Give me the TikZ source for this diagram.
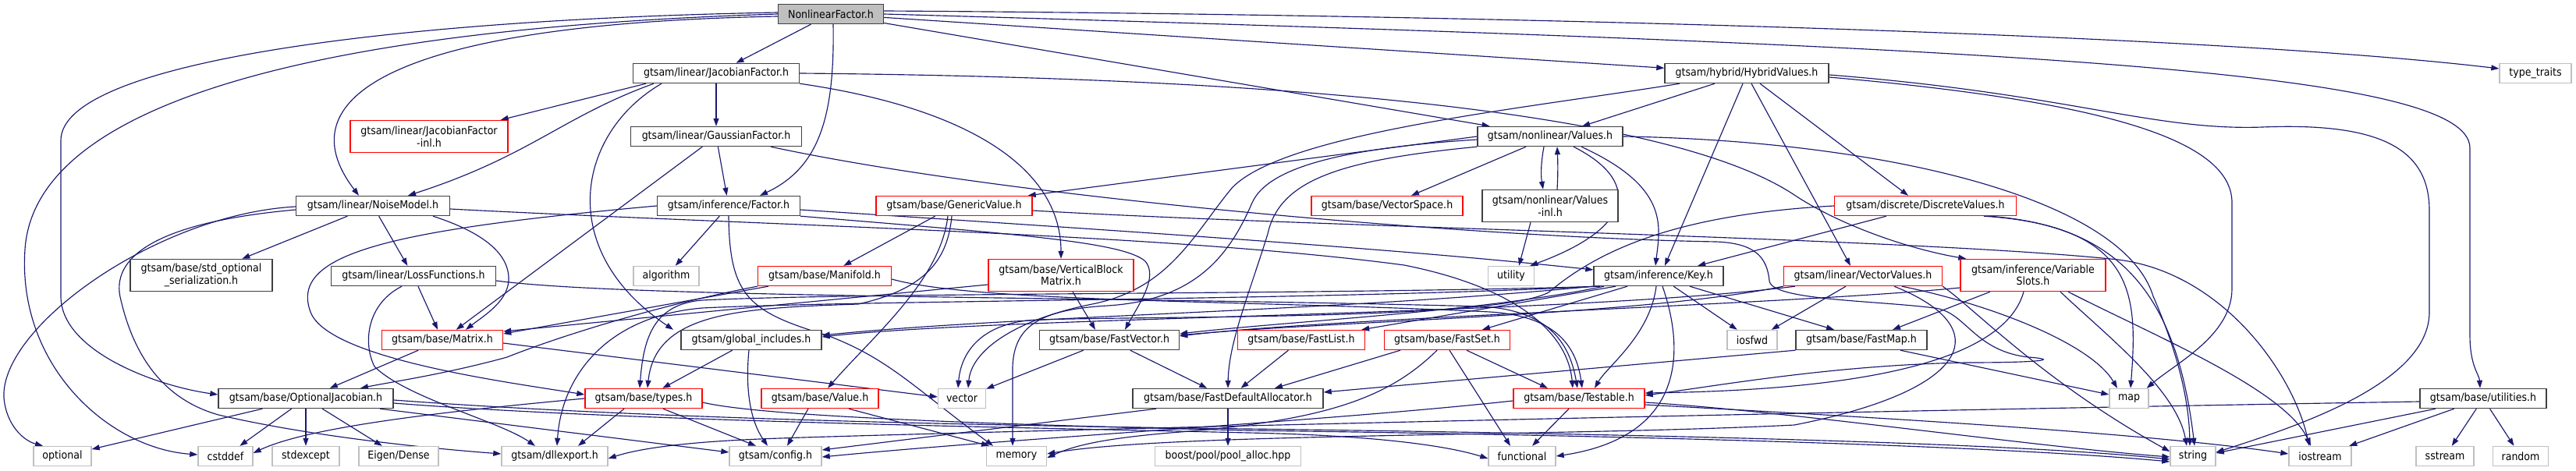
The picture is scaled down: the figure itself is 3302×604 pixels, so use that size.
\documentclass[tikz,border=0pt]{standalone}
\usepackage{fontspec}
\IfFontExistsTF{DejaVu Sans Condensed}{\setmainfont{DejaVu Sans Condensed}}{\setmainfont{DejaVu Sans}[FakeStretch=0.9]}
\usetikzlibrary{arrows.meta}
\pgfdeclarelayer{edgelayer}
\pgfsetlayers{edgelayer,main}
\definecolor{edgec}{HTML}{191970}
\definecolor{nodeblk}{HTML}{404040}
\definecolor{nodered}{HTML}{FF0000}
\definecolor{nodegry}{HTML}{BFBFBF}
\definecolor{rootfill}{HTML}{BFBFBF}
\tikzset{
  base/.style={rectangle, line width=1.4pt, fill=white, inner sep=0pt, minimum height=25pt,
    font=\fontsize{14}{15.5}\selectfont, align=center},
  nb/.style={base, draw=nodeblk},
  nr/.style={base, draw=nodered},
  ng/.style={base, draw=nodegry},
  nroot/.style={base, draw=nodeblk, fill=rootfill},
  two/.style={minimum height=41pt},
  e/.style={draw=edgec, line width=1.15pt, -{Triangle[length=10pt,width=7pt]}},
}
\begin{document}
\begin{tikzpicture}[x=1pt,y=-1pt]
\useasboundingbox (0,0) rectangle (3302,604);
% row 1
\node[nroot, minimum width=135pt] (nf) at (1065,18) {NonlinearFactor.h};
% row 2
\node[nb, minimum width=213pt] (jf) at (918,94) {gtsam/linear/JacobianFactor.h};
\node[nb, minimum width=210pt] (hyb) at (2239,94) {gtsam/hybrid/HybridValues.h};
\node[ng, minimum width=92pt] (tt) at (3250,94) {type\_traits};
% row 3
\node[nr, two, minimum width=202pt] (jinl) at (550,175) {gtsam/linear/JacobianFactor\\-inl.h};
\node[nb, minimum width=219pt] (gf) at (918,175) {gtsam/linear/GaussianFactor.h};
\node[nb, minimum width=186pt] (vals) at (1987,175) {gtsam/nonlinear/Values.h};
% row 4
\node[nb, minimum width=197pt] (noise) at (478,264) {gtsam/linear/NoiseModel.h};
\node[nb, minimum width=183pt] (fac) at (934,264) {gtsam/inference/Factor.h};
\node[nr, minimum width=200pt] (gv) at (1223,264) {gtsam/base/GenericValue.h};
\node[nr, minimum width=194pt] (vspace) at (1778,264) {gtsam/base/VectorSpace.h};
\node[nb, two, minimum width=174pt] (vinl) at (1987,264) {gtsam/nonlinear/Values\\-inl.h};
\node[nr, minimum width=233pt] (dvals) at (2468,264) {gtsam/discrete/DiscreteValues.h};
% row 5
\node[nb, two, minimum width=182pt] (stdopt) at (258,353) {gtsam/base/std\_optional\\\_serialization.h};
\node[nb, minimum width=211pt] (loss) at (530,354) {gtsam/linear/LossFunctions.h};
\node[ng, minimum width=84pt] (algo) at (854,354) {algorithm};
\node[nr, minimum width=171pt] (manif) at (1057,354) {gtsam/base/Manifold.h};
\node[nr, two, minimum width=186pt] (vbm) at (1360,353) {gtsam/base/VerticalBlock\\Matrix.h};
\node[ng, minimum width=59pt] (utility) at (1937,354) {utility};
\node[nb, minimum width=166pt] (key) at (2126,354) {gtsam/inference/Key.h};
\node[nr, minimum width=203pt] (vvals) at (2388,354) {gtsam/linear/VectorValues.h};
\node[nr, two, minimum width=186pt] (vslots) at (2606,353) {gtsam/inference/Variable\\Slots.h};
% row 6
\node[nr, minimum width=155pt] (matrix) at (567,436) {gtsam/base/Matrix.h};
\node[nb, minimum width=180pt] (glob) at (963,436) {gtsam/global\_includes.h};
\node[nb, minimum width=179pt] (fvec) at (1422,436) {gtsam/base/FastVector.h};
\node[nr, minimum width=163pt] (flist) at (1668,436) {gtsam/base/FastList.h};
\node[nr, minimum width=161pt] (fset) at (1855,436) {gtsam/base/FastSet.h};
\node[ng, minimum width=64pt] (iosfwd) at (2246,436) {iosfwd};
\node[nb, minimum width=168pt] (fmap) at (2386,436) {gtsam/base/FastMap.h};
% row 7
\node[nb, minimum width=224pt] (oj) at (392,511) {gtsam/base/OptionalJacobian.h};
\node[nr, minimum width=150pt] (types) at (825,511) {gtsam/base/types.h};
\node[nr, minimum width=150pt] (value) at (1051,511) {gtsam/base/Value.h};
\node[ng, minimum width=61pt] (vector) at (1233,511) {vector};
\node[nb, minimum width=244pt] (fda) at (1574,511) {gtsam/base/FastDefaultAllocator.h};
\node[nr, minimum width=168pt] (testable) at (2024,511) {gtsam/base/Testable.h};
\node[ng, minimum width=50pt] (map) at (2729,511) {map};
\node[nb, minimum width=162pt] (util) at (3183,511) {gtsam/base/utilities.h};
% row 8
\node[ng, minimum width=74pt] (optional) at (80,585) {optional};
\node[ng, minimum width=70pt] (cstddef) at (289,585) {cstddef};
\node[ng, minimum width=86pt] (stdexcept) at (392,585) {stdexcept};
\node[ng, minimum width=102pt] (eigen) at (511,585) {Eigen/Dense};
\node[ng, minimum width=136pt] (dll) at (711,585) {gtsam/dllexport.h};
\node[ng, minimum width=118pt] (config) at (994,585) {gtsam/config.h};
\node[ng, minimum width=77pt] (memory) at (1303,585) {memory};
\node[ng, minimum width=187pt] (pool) at (1574,585) {boost/pool/pool\_alloc.hpp};
\node[ng, minimum width=86pt] (functional) at (1951,585) {functional};
\node[ng, minimum width=58pt] (string) at (2811,585) {string};
\node[ng, minimum width=80pt] (iostream) at (2974,585) {iostream};
\node[ng, minimum width=74pt] (sstream) at (3134,585) {sstream};
\node[ng, minimum width=71pt] (random) at (3231,585) {random};

\begin{pgfonlayer}{edgelayer}
\fill[white] (0,0) rectangle (3302,604);
% ---- root
\draw[e] (nf) -- (jf);
\draw[e] ([xshift=3pt]nf.south) .. controls (1070,150) and (1050,215) .. ([xshift=40pt]fac.north);
\draw[e] (nf) -- (vals);
\draw[e] (nf) -- (hyb);
\draw[e] ([yshift=4pt]nf.east) .. controls (1800,18) and (2800,40) .. ([yshift=6pt]tt.west);
\draw[e] (nf.east) .. controls (2600,60) and (3166,90) .. (3166,190) -- (3166,430) .. controls (3166,470) and (3178,480) .. ([xshift=-4pt]util.north);
\draw[e] ([yshift=-3pt]nf.west) .. controls (520,30) and (360,120) .. ([xshift=-18pt]noise.north);
\draw[e] ([yshift=2pt]nf.west) .. controls (500,25) and (78,80) .. (78,180) -- (78,380) .. controls (78,450) and (200,495) .. ([yshift=5pt]oj.west);
\draw[e] (nf.west) .. controls (450,35) and (45,120) .. (32,320) .. controls (22,470) and (140,575) .. ([yshift=2pt]cstddef.west);
% ---- JacobianFactor
\draw[e] ([xshift=-90pt]jf.south) -- ([xshift=-10pt]jinl.north east);
\draw[e] ([xshift=-80pt]jf.south) .. controls (720,150) and (680,200) .. ([xshift=45pt]noise.north);
\draw[e] (jf) -- (gf);
\draw[e] (jf.south east) .. controls (1250,140) and (1360,220) .. (vbm.north);
\draw[e] ([xshift=-70pt]jf.south) .. controls (740,170) and (710,320) .. ([xshift=-100pt]glob.north);
\draw[e] (jf.east) .. controls (1700,100) and (2150,150) .. (2300,250) .. controls (2360,290) and (2450,320) .. ([xshift=8pt]vslots.north west);
% ---- GaussianFactor
\draw[e] (gf) -- (fac);
\draw[e] (gf) -- (matrix);
\draw[e] ([xshift=70pt]gf.south) .. controls (1300,255) and (1900,305) .. (2200,310) .. controls (2250,312) and (2265,330) .. (2268,360) .. controls (2270,385) and (2400,385) .. (2480,395) .. controls (2520,400) and (2530,450) .. (2600,458) .. controls (2640,461) and (2620,465) .. (2520,465) .. controls (2350,468) and (2200,495) .. ([yshift=4pt]testable.east);
% ---- Factor
\draw[e] (fac) -- (algo);
\draw[e] (fac.west) .. controls (500,295) and (370,325) .. (398,400) .. controls (420,460) and (650,490) .. ([yshift=5pt]types.west);
\draw[e] (fac.south) .. controls (935,380) and (960,400) .. (1060,430) .. controls (1140,460) and (1175,500) .. ([xshift=-30pt]memory.north);
\draw[e] ([yshift=-5pt]fac.east) .. controls (1500,300) and (1800,320) .. ([yshift=8pt]key.west);
\draw[e] (fac.south east) .. controls (1300,300) and (1440,310) .. (1468,335) .. controls (1485,355) and (1460,390) .. ([xshift=20pt]fvec.north);
% ---- GenericValue
\draw[e] (gv) -- (manif);
\draw[e] ([xshift=-3pt]gv.south) .. controls (1215,330) and (1190,370) .. (1100,390) .. controls (950,395) and (840,400) .. ([xshift=5pt]types.north);
\draw[e] ([xshift=-8pt]gv.south) .. controls (1205,360) and (1120,430) .. ([xshift=10pt]value.north);
\draw[e] ([yshift=-6pt]gv.east) .. controls (1700,292) and (2450,305) .. (2715,333) .. controls (2850,350) and (2940,480) .. ([xshift=-14pt]iostream.north);
% ---- Values
\draw[e] (vals.west) -- ([xshift=-6pt]gv.north east);
\draw[e] (vals) -- (vspace);
\draw[e] ([xshift=-8pt]vals.south) .. controls (1975,210) and (1975,225) .. ([xshift=-9pt]vinl.north);
\draw[e] ([xshift=9pt]vinl.north) .. controls (1997,225) and (1997,210) .. ([xshift=9pt]vals.south);
\draw[e] ([xshift=30pt]vals.south) .. controls (2100,230) and (2100,290) .. ([xshift=-6pt]utility.north east);
\draw[e] ([xshift=40pt]vals.south) .. controls (2140,240) and (2128,290) .. ([xshift=-4pt]key.north);
\draw[e] (vals.east) .. controls (2400,180) and (2720,250) .. (2760,380) .. controls (2795,460) and (2806,520) .. ([xshift=-4pt]string.north);
\draw[e] ([yshift=-4pt]vals.west) .. controls (1720,190) and (1625,215) .. (1605,260) .. controls (1575,330) and (1530,385) .. (1420,392) .. controls (1330,397) and (1300,420) .. (1298,470) -- ([xshift=-5pt]memory.north);
\draw[e] (vals.south west) .. controls (1720,205) and (1640,230) .. (1625,300) .. controls (1600,380) and (1575,440) .. (fda.north);
\draw[e] ([xshift=-25pt]vinl.south) -- ([xshift=10pt]utility.north);
% ---- HybridValues
\draw[e] (hyb) -- (vals);
\draw[e] ([xshift=-5pt]hyb.south) -- ([xshift=8pt]key.north);
\draw[e] ([xshift=6pt]hyb.south) -- ([xshift=-16pt]vvals.north);
\draw[e] ([xshift=17pt]hyb.south) -- ([xshift=-22pt]dvals.north);
\draw[e] ([yshift=-5pt]hyb.east) .. controls (2700,130) and (2861,180) .. (2861,260) -- (2861,370) .. controls (2861,430) and (2790,465) .. ([xshift=-3pt]map.north east);
\draw[e] ([yshift=-2pt]hyb.east) .. controls (2650,120) and (2760,168) .. (2900,163) .. controls (3050,157) and (3114,190) .. (3114,270) -- (3114,400) .. controls (3114,490) and (2950,545) .. ([yshift=5pt]string.east);
\draw[e] ([xshift=-86pt]hyb.south) .. controls (1950,140) and (1650,170) .. (1580,240) .. controls (1530,300) and (1500,370) .. (1400,390) .. controls (1300,410) and (1245,450) .. ([xshift=8pt]vector.north);
% ---- DiscreteValues
\draw[e] (dvals) -- (key);
\draw[e] (dvals.west) .. controls (2150,275) and (2050,320) .. (1985,375) .. controls (1920,410) and (1500,405) .. (1330,410) .. controls (1260,413) and (1232,450) .. ([xshift=-5pt]vector.north);
\draw[e] ([xshift=75pt]dvals.south) .. controls (2740,290) and (2740,380) .. ([xshift=2pt]map.north);
\draw[e] ([xshift=82pt]dvals.south) .. controls (2720,290) and (2790,380) .. ([xshift=2pt]string.north);
% ---- Key
\draw[e] ([xshift=-55pt]key.south) -- ([xshift=-5pt]flist.north east);
\draw[e] ([xshift=-40pt]key.south) -- ([xshift=45pt]fset.north);
\draw[e] ([xshift=-70pt]key.south) .. controls (1900,400) and (1650,412) .. ([yshift=8pt]fvec.east);
\draw[e] (key.south west) .. controls (1700,400) and (1300,405) .. ([yshift=6pt]glob.east);
\draw[e] ([xshift=-75pt]key.south) .. controls (1700,378) and (1100,375) .. (900,385) .. controls (840,390) and (825,430) .. ([xshift=-5pt]types.north);
\draw[e] ([xshift=-80pt]key.south) .. controls (1700,385) and (1100,385) .. (900,395) .. controls (780,405) and (720,480) .. ([xshift=3pt]dll.north);
\draw[e] ([xshift=-3pt]key.south) .. controls (2115,430) and (2060,470) .. ([xshift=20pt]testable.north);
\draw[e] ([xshift=5pt]key.south) .. controls (2160,450) and (2160,560) .. (functional.east);
\draw[e] (key) -- (iosfwd);
\draw[e] ([xshift=40pt]key.south) -- ([xshift=-35pt]fmap.north);
% ---- VectorValues
\draw[e] ([xshift=-22pt]vvals.south) -- ([xshift=-8pt]iosfwd.north east);
\draw[e] (vvals.south west) .. controls (2100,405) and (1700,412) .. ([yshift=6pt]fvec.east);
\draw[e] ([xshift=15pt]vvals.south west) .. controls (2000,405) and (1300,405) .. ([yshift=4pt]glob.east);
\draw[e] ([xshift=50pt]vvals.south) .. controls (2550,390) and (2680,440) .. ([xshift=-15pt]map.north);
\draw[e] (vvals.south east) .. controls (2530,395) and (2620,490) .. ([yshift=6pt]string.west);
\draw[e] ([xshift=40pt]vvals.south) .. controls (2560,420) and (2530,500) .. (2300,545) .. controls (2000,560) and (1500,555) .. ([yshift=3pt]memory.east);
% ---- VariableSlots
\draw[e] ([xshift=-55pt]vslots.south) -- ([xshift=40pt]fmap.north);
\draw[e] ([yshift=-16pt]vslots.west) .. controls (2300,390) and (1700,408) .. ([yshift=5pt]fvec.east);
\draw[e] ([xshift=-12pt]vslots.south) .. controls (2570,460) and (2400,500) .. ([yshift=7pt]testable.east);
\draw[e] ([xshift=35pt]vslots.south) .. controls (2700,430) and (2790,500) .. ([xshift=-8pt]string.north);
\draw[e] ([xshift=45pt]vslots.south) .. controls (2760,430) and (2930,500) .. ([xshift=-12pt]iostream.north);
% ---- Matrix
\draw[e] (matrix) -- (oj);
\draw[e] ([yshift=-4pt]matrix.east) -- ([yshift=2pt]vector.west);
% ---- global_includes
\draw[e] (glob) -- (types);
\draw[e] ([xshift=-3pt]glob.south) .. controls (955,500) and (962,540) .. ([xshift=-10pt]config.north);
% ---- Fast containers
\draw[e] (fvec) -- (vector);
\draw[e] (fvec) -- (fda);
\draw[e] (flist) -- (fda);
\draw[e] ([xshift=-60pt]fset.south) -- ([xshift=60pt]fda.north);
\draw[e] ([xshift=25pt]fset.south) -- ([xshift=-40pt]testable.north);
\draw[e] ([xshift=3pt]fset.south) -- ([xshift=-15pt]functional.north);
\draw[e] ([xshift=-13pt]fset.south) .. controls (1780,510) and (1700,540) .. (1500,555) .. controls (1420,562) and (1380,570) .. ([yshift=-2pt]memory.east);
\draw[e] (fmap.south west) -- ([yshift=8pt]fda.east);
\draw[e] ([xshift=50pt]fmap.south) -- ([yshift=5pt]map.west);
% ---- OptionalJacobian
\draw[e] (oj) -- (optional);
\draw[e] (oj) -- (cstddef);
\draw[e] (oj) -- (stdexcept);
\draw[e] (oj) -- (eigen);
\draw[e] ([xshift=95pt]oj.south) -- ([yshift=5pt]config.west);
\draw[e] ([yshift=-2pt]oj.east) .. controls (800,535) and (1200,545) .. (1600,550) .. controls (2200,558) and (2600,570) .. ([yshift=-4pt]string.west);
\draw[e] ([yshift=-6pt]oj.east) .. controls (800,540) and (1300,548) .. (1600,555) .. controls (1750,558) and (1850,570) .. ([yshift=-3pt]functional.west);
% ---- types
\draw[e] (types.west) .. controls (600,525) and (400,545) .. ([yshift=4pt]cstddef.east);
\draw[e] ([xshift=-25pt]types.south) -- ([xshift=30pt]dll.north);
\draw[e] ([xshift=25pt]types.south) -- ([xshift=-25pt]config.north);
\draw[e] ([yshift=-5pt]types.east) .. controls (980,535) and (1300,545) .. (1600,552) .. controls (2200,560) and (2600,575) .. ([yshift=-7pt]string.west);
% ---- Value
\draw[e] ([xshift=-15pt]value.south) -- ([xshift=15pt]config.north);
\draw[e] ([xshift=37pt]value.south) -- ([xshift=-35pt]memory.north);
% ---- FastDefaultAllocator
\draw[e] ([xshift=-92pt]fda.south) -- ([yshift=8pt]config.east);
\draw[e] (fda) -- (pool);
% ---- Testable
\draw[e] (testable) -- (functional);
\draw[e] ([yshift=-3pt]testable.west) .. controls (1700,540) and (1300,562) .. ([yshift=-1pt]config.east);
\draw[e] ([yshift=-5pt]testable.east) .. controls (2300,528) and (2600,572) .. ([yshift=-1pt]string.west);
\draw[e] ([yshift=-8pt]testable.east) .. controls (2400,535) and (2750,555) .. ([yshift=3pt]iostream.west);
% ---- utilities
\draw[e] ([xshift=-61pt]util.south) -- ([yshift=4pt]string.east);
\draw[e] (util) -- (iostream);
\draw[e] (util) -- (sstream);
\draw[e] (util) -- (random);
\draw[e] ([yshift=-4pt]util.west) .. controls (2200,530) and (1200,555) .. (1000,562) .. controls (880,566) and (820,575) .. ([yshift=-3pt]dll.east);
% ---- NoiseModel
\draw[e] (noise) -- (stdopt);
\draw[e] (noise) -- (loss);
\draw[e] ([xshift=77pt]noise.south) .. controls (610,295) and (650,320) .. (652,355) .. controls (654,385) and (620,405) .. ([xshift=30pt]matrix.north);
\draw[e] ([yshift=-1pt]noise.west) .. controls (200,275) and (0,420) .. (5,510) .. controls (8,545) and (30,565) .. ([xshift=-25pt]optional.north);
\draw[e] ([yshift=-5pt]noise.west) .. controls (200,285) and (140,330) .. (155,385) .. controls (175,470) and (220,515) .. (280,532) .. controls (400,560) and (550,575) .. ([yshift=3pt]dll.west);
\draw[e] ([yshift=-4pt]noise.east) .. controls (1000,290) and (1500,300) .. (1800,340) .. controls (1950,370) and (2010,430) .. ([xshift=-8pt]testable.north);
% ---- LossFunctions
\draw[e] (loss) -- (matrix);
\draw[e] ([xshift=-15pt]loss.south) .. controls (470,390) and (465,440) .. (480,470) .. controls (520,510) and (640,540) .. ([xshift=-25pt]dll.north);
\draw[e] ([yshift=-6pt]loss.east) .. controls (800,382) and (1400,380) .. (1900,393) .. controls (1985,398) and (2012,440) .. ([xshift=-2pt]testable.north);
% ---- Manifold
\draw[e] (manif.south west) .. controls (850,390) and (720,430) .. (650,458) .. controls (570,480) and (500,490) .. ([xshift=70pt]oj.north);
\draw[e] ([xshift=14pt]manif.south west) -- ([yshift=8pt]matrix.east);
\draw[e] ([yshift=-4pt]manif.east) .. controls (1250,388) and (1600,385) .. (1910,400) .. controls (1990,405) and (2020,440) .. ([xshift=4pt]testable.north);
% ---- VerticalBlockMatrix
\draw[e] ([xshift=15pt]vbm.south) -- ([xshift=-18pt]fvec.north);
\draw[e] ([yshift=-12pt]vbm.west) -- ([yshift=11pt]matrix.east);
\end{pgfonlayer}
\end{tikzpicture}
\end{document}
